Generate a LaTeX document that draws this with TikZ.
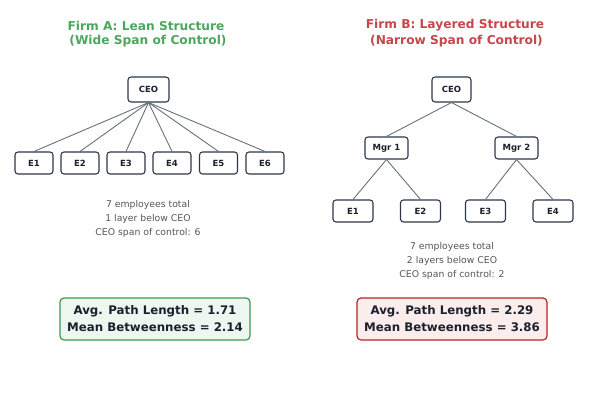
\documentclass[tikz,border=0pt]{standalone}
\usepackage{fontspec}
\setmainfont{DejaVu Sans}
\definecolor{titleA}{HTML}{4CA65E}
\definecolor{titleB}{HTML}{C8454A}
\definecolor{nodeborder}{HTML}{2D3748}
\definecolor{nodetext}{HTML}{1A202C}
\definecolor{edgegray}{HTML}{667373}
\definecolor{notegray}{HTML}{555555}
\definecolor{boxAfill}{HTML}{EEF6F0}
\definecolor{boxAborder}{HTML}{3C9A4E}
\definecolor{boxBfill}{HTML}{FCEDED}
\definecolor{boxBborder}{HTML}{B22828}
\tikzset{
  orgnode/.style={draw=nodeborder, fill=white, line width=1.1pt, rounded corners=3pt,
    inner sep=0pt, text=nodetext, font=\fontsize{8.5}{10}\selectfont\bfseries},
  link/.style={draw=edgegray, line width=0.9pt},
  titletext/.style={font=\fontsize{12.2}{14}\selectfont\bfseries},
  notetext/.style={text=notegray, font=\fontsize{9.3}{14}\selectfont, align=center},
  metricbox/.style={line width=1.2pt, rounded corners=4pt, inner sep=0pt,
    minimum width=190pt, minimum height=42pt, align=center, text=nodetext,
    font=\fontsize{11.8}{17}\selectfont\bfseries}
}
\begin{document}
\begin{tikzpicture}[x=1pt,y=-1pt]
\useasboundingbox (0,0) rectangle (600,400);
% Titles
\node[titletext, text=titleA] (tA1) at (146,25.5) {Firm A: Lean Structure};
\node[titletext, text=titleA] (tA2) at (148,41) {(Wide Span of Control)};
\node[titletext, text=titleB] (tB1) at (455,25.5) {Firm B: Layered Structure};
\node[titletext, text=titleB] (tB2) at (456.5,41) {(Narrow Span of Control)};
% Firm A
\node[orgnode, minimum width=41pt, minimum height=25pt] (aceo) at (148.5,89.5) {CEO};
\foreach \i/\x in {1/34,2/80,3/126,4/172,5/218.5,6/265}{
  \node[orgnode, minimum width=38pt, minimum height=22pt] (ae\i) at (\x,163) {E\i};
  \draw[link] (aceo.south) -- (ae\i.north);
}
\node[notetext] (anote) at (148,219) {7 employees total\\1 layer below CEO\\CEO span of control: 6};
% Firm B
\node[orgnode, minimum width=39pt, minimum height=25pt] (bceo) at (451.5,89.5) {CEO};
\node[orgnode, minimum width=43pt, minimum height=22pt] (bm1) at (386.5,148) {Mgr 1};
\node[orgnode, minimum width=43pt, minimum height=22pt] (bm2) at (516.5,148) {Mgr 2};
\node[orgnode, minimum width=40pt, minimum height=22pt] (be1) at (353,211) {E1};
\node[orgnode, minimum width=40pt, minimum height=22pt] (be2) at (420.5,211) {E2};
\node[orgnode, minimum width=40pt, minimum height=22pt] (be3) at (485.5,211) {E3};
\node[orgnode, minimum width=40pt, minimum height=22pt] (be4) at (553,211) {E4};
\draw[link] (bceo.south) -- (bm1.north);
\draw[link] (bceo.south) -- (bm2.north);
\draw[link] (bm1.south) -- (be1.north);
\draw[link] (bm1.south) -- (be2.north);
\draw[link] (bm2.south) -- (be3.north);
\draw[link] (bm2.south) -- (be4.north);
\node[notetext] (bnote) at (452,260.5) {7 employees total\\2 layers below CEO\\CEO span of control: 2};
% Metric boxes
\node[metricbox, draw=boxAborder, fill=boxAfill] (amet) at (155,319) {Avg. Path Length = 1.71\\Mean Betweenness = 2.14};
\node[metricbox, draw=boxBborder, fill=boxBfill] (bmet) at (452,319) {Avg. Path Length = 2.29\\Mean Betweenness = 3.86};
\end{tikzpicture}
\end{document}
